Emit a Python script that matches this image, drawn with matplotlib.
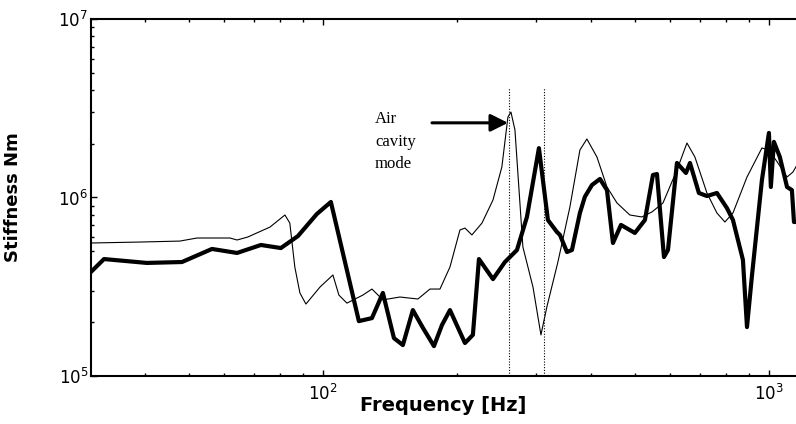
import matplotlib
matplotlib.use("Agg")
import matplotlib.pyplot as plt
from matplotlib.ticker import LogLocator, NullFormatter

# Measured stiffness (thick line)
freq_meas = [30.2, 32.3, 40.3, 48.3, 56.4, 64.2, 72.6, 80.5, 87.9, 96.9, 104.2,
             120.4, 128.8, 136.3, 144.3, 151.1, 159.1, 167.6, 177.4, 184.9, 192.7,
             208.2, 216.9, 223.8, 240.6, 255.9, 272.3, 286.7, 305.0, 319.5, 334.7,
             340.0, 352.5, 361.7, 376.9, 386.7, 401.1, 418.0, 433.4, 447.0, 465.9,
             500.5, 527.2, 549.5, 561.0, 581.7, 593.8, 622.0, 651.6, 665.3, 696.6,
             726.1, 764.5, 805.0, 830.5, 874.4, 892.9, 915.5, 964.5, 1000, 1010,
             1026, 1058, 1098, 1126, 1138, 1156]
stiff_meas = [3.83e5, 4.52e5, 4.30e5, 4.35e5, 5.15e5, 4.89e5, 5.42e5, 5.21e5, 6.08e5, 8.08e5, 9.44e5,
              2.03e5, 2.11e5, 2.92e5, 1.63e5, 1.49e5, 2.34e5, 1.86e5, 1.47e5, 1.93e5, 2.34e5,
              1.53e5, 1.70e5, 4.52e5, 3.49e5, 4.35e5, 5.08e5, 7.78e5, 1.89e6, 7.48e5, 6.41e5,
              6.17e5, 4.95e5, 5.08e5, 8.19e5, 1.01e6, 1.175e6, 1.27e6, 1.10e6, 5.56e5, 7.02e5,
              6.33e5, 7.48e5, 1.337e6, 1.354e6, 4.64e5, 5.08e5, 1.561e6, 1.372e6, 1.561e6, 1.06e6,
              1.019e6, 1.06e6, 8.73e5, 7.48e5, 4.47e5, 1.88e5, 3.59e5, 1.253e6, 2.30e6, 1.145e6,
              2.05e6, 1.686e6, 1.145e6, 1.10e6, 7.29e5, 7.3e5]

# Model stiffness (thin line)
freq_model = [30.2, 38.9, 47.8, 52.2, 61.9, 64.2, 67.9, 71.1, 76.1, 82.2, 84.3,
              86.5, 88.8, 91.6, 98.5, 105.3, 108.6, 113.2, 122.9, 128.8, 136.3,
              148.8, 163.3, 173.8, 183.0, 192.7, 202.9, 208.2, 215.8, 227.3, 240.6,
              251.9, 259.9, 264.0, 269.5, 280.8, 295.8, 308.2, 317.8, 336.4, 357.9,
              376.9, 390.7, 411.5, 433.4, 456.4, 487.7, 519.0, 546.7, 578.7, 622.0,
              654.9, 682.4, 726.1, 764.5, 796.7, 830.5, 892.9, 964.5, 1000, 1047.6,
              1098, 1132, 1156]
stiff_model = [5.56e5, 5.63e5, 5.70e5, 5.93e5, 5.93e5, 5.78e5, 6.01e5, 6.33e5, 6.83e5, 7.98e5, 7.19e5,
               4.08e5, 2.92e5, 2.53e5, 3.15e5, 3.68e5, 2.84e5, 2.56e5, 2.84e5, 3.07e5, 2.67e5,
               2.77e5, 2.70e5, 3.07e5, 3.07e5, 4.08e5, 6.58e5, 6.74e5, 6.17e5, 7.19e5, 9.68e5,
               1.483e6, 2.825e6, 3.01e6, 2.39e6, 5.28e5, 3.15e5, 1.70e5, 2.44e5, 4.35e5, 8.85e5,
               1.845e6, 2.127e6, 1.686e6, 1.145e6, 9.32e5, 7.98e5, 7.78e5, 8.30e5, 9.32e5, 1.426e6,
               2.02e6, 1.686e6, 1.06e6, 8.19e5, 7.29e5, 8.19e5, 1.302e6, 1.894e6, 1.845e6, 1.561e6,
               1.302e6, 1.389e6, 1.52e6]

# Marker lines at the air cavity mode
mode_freqs = [261, 313]
mode_top = 4.1e6

annot_text = "Air\ncavity\nmode"
annot_text_pos = (130.8, 2.05e6)
arrow_tail = (175.6, 2.62e6)
arrow_tip = (260, 2.62e6)

x_label = "Frequency [Hz]"
y_label = "Stiffness Nm"

fig = plt.figure(figsize=(7.96, 4.24), dpi=100)
ax = fig.add_axes([0.1143, 0.1132, 0.8857, 0.8420])

ax.plot(freq_model, stiff_model, color="black", lw=0.8)
ax.plot(freq_meas, stiff_meas, color="black", lw=3.0, solid_joinstyle="round")
ax.vlines(mode_freqs, 1e5, mode_top, colors="black", linestyles=(0, (1, 1.5)), lw=0.8)

ax.annotate("", xy=arrow_tip, xytext=arrow_tail,
            arrowprops=dict(arrowstyle="-|>,head_length=0.7,head_width=0.35", lw=2.2,
                            color="black", mutation_scale=15, shrinkA=0, shrinkB=0))
ax.text(annot_text_pos[0], annot_text_pos[1], annot_text, family="Liberation Serif",
        fontsize=12, ha="left", va="center", linespacing=1.55)

ax.set_xscale("log")
ax.set_yscale("log")
ax.set_xlim(30.2, 1150)
ax.set_ylim(1e5, 1e7)

ax.xaxis.set_minor_locator(LogLocator(base=10, subs=range(2, 10)))
ax.yaxis.set_minor_locator(LogLocator(base=10, subs=range(2, 10)))
ax.xaxis.set_minor_formatter(NullFormatter())
ax.yaxis.set_minor_formatter(NullFormatter())

ax.tick_params(which="both", direction="in", top=True, right=False, width=1.0)
ax.tick_params(which="major", length=4, labelsize=12)
ax.tick_params(which="minor", length=2)
ax.tick_params(axis="x", which="major", pad=6)
ax.tick_params(axis="y", which="major", pad=2)

for s in ["left", "bottom", "top"]:
    ax.spines[s].set_linewidth(1.5)
ax.spines["right"].set_visible(False)

ax.set_xlabel(x_label, fontsize=14, fontweight="bold")
ax.xaxis.set_label_coords(0.5, -0.055)
ax.set_ylabel(y_label, fontsize=13, fontweight="bold")
ax.yaxis.set_label_coords(-0.098, 0.5)

fig.savefig("out.png", dpi=100)
